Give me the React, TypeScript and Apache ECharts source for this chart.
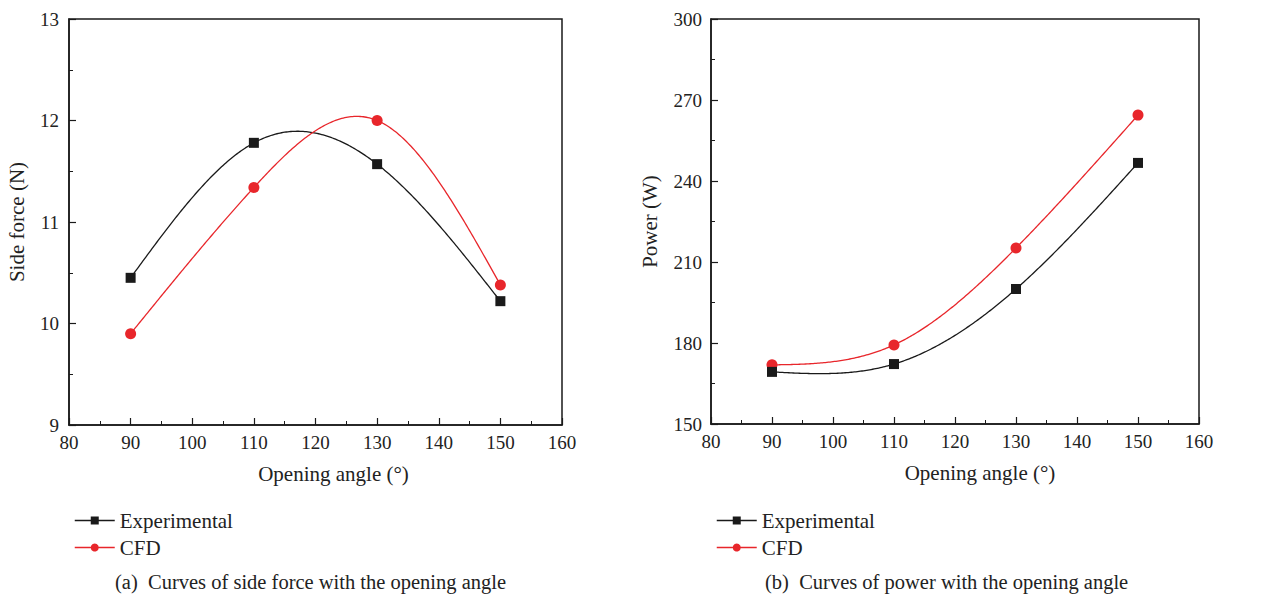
import React, { useEffect, useRef } from "react";
import * as echarts from "echarts";

const angles = [90, 110, 130, 150];
const sideExp = [10.45, 11.78, 11.57, 10.22];
const sideCfd = [9.9, 11.34, 12.0, 10.38];
const powerExp = [169.3, 172.2, 200.0, 246.7];
const powerCfd = [171.9, 179.3, 215.2, 264.4];

const BLACK = "#1a1a1a";
const RED = "#e8262b";
const FONT = "Liberation Serif";

function pairs(xs: number[], ys: number[]) {
  return xs.map((x, i) => [x, ys[i]]);
}

// natural cubic spline evaluator used only for drawing the curve between data points
function naturalSpline(xs: number[], ys: number[]) {
  const n = xs.length;
  const h: number[] = [];
  for (let i = 0; i < n - 1; i++) h.push(xs[i + 1] - xs[i]);
  const a: number[] = new Array(n).fill(0);
  const b: number[] = new Array(n).fill(1);
  const c: number[] = new Array(n).fill(0);
  const d: number[] = new Array(n).fill(0);
  for (let i = 1; i < n - 1; i++) {
    a[i] = h[i - 1];
    b[i] = 2 * (h[i - 1] + h[i]);
    c[i] = h[i];
    d[i] = 6 * ((ys[i + 1] - ys[i]) / h[i] - (ys[i] - ys[i - 1]) / h[i - 1]);
  }
  const cp = new Array(n).fill(0);
  const dp = new Array(n).fill(0);
  cp[0] = c[0] / b[0];
  dp[0] = d[0] / b[0];
  for (let i = 1; i < n; i++) {
    const m = b[i] - a[i] * cp[i - 1];
    cp[i] = c[i] / m;
    dp[i] = (d[i] - a[i] * dp[i - 1]) / m;
  }
  const M = new Array(n).fill(0);
  M[n - 1] = dp[n - 1];
  for (let i = n - 2; i >= 0; i--) M[i] = dp[i] - cp[i] * M[i + 1];
  return (x: number) => {
    let i = 0;
    while (i < n - 2 && x > xs[i + 1]) i++;
    const hi = h[i];
    const t1 = xs[i + 1] - x;
    const t2 = x - xs[i];
    return (
      (M[i] * t1 * t1 * t1) / (6 * hi) +
      (M[i + 1] * t2 * t2 * t2) / (6 * hi) +
      (ys[i] / hi - (M[i] * hi) / 6) * t1 +
      (ys[i + 1] / hi - (M[i + 1] * hi) / 6) * t2
    );
  };
}

function curveSeries(gi: number, xs: number[], ys: number[], color: string) {
  const f = naturalSpline(xs, ys);
  return {
    type: "custom",
    xAxisIndex: gi,
    yAxisIndex: gi,
    data: pairs(xs, ys),
    encode: { x: 0, y: 1 },
    silent: true,
    z: 1,
    renderItem: (params: any, api: any) => {
      if (params.dataIndex !== 0) return null;
      const pts: number[][] = [];
      const x0 = xs[0];
      const x1 = xs[xs.length - 1];
      const steps = 240;
      for (let k = 0; k <= steps; k++) {
        const x = x0 + ((x1 - x0) * k) / steps;
        pts.push(api.coord([x, f(x)]));
      }
      return {
        type: "polyline",
        shape: { points: pts },
        style: { stroke: color, lineWidth: 1.3, fill: null },
      };
    },
  };
}

export default function App() {
  const ref = useRef<HTMLDivElement>(null);
  useEffect(() => {
    document.body.style.margin = "0";
    const chart = echarts.init(ref.current!, null, { renderer: "svg" });
    const axisLine = { show: true, lineStyle: { color: BLACK, width: 1.5 } };
    const axisTick = { show: true, inside: true, length: 7, lineStyle: { color: BLACK, width: 1.2 } };
    const minorTick = { show: true, splitNumber: 2, length: 4, lineStyle: { color: BLACK, width: 1 } };
    const label = { color: "#222", fontFamily: FONT, fontSize: 19 };
    const nameStyle = { color: "#222", fontFamily: FONT, fontSize: 21 };
    const xAxisBase = (gi: number) => ({
      type: "value",
      gridIndex: gi,
      min: 80,
      max: 160,
      interval: 10,
      axisLine,
      axisTick,
      minorTick,
      splitLine: { show: false },
      axisLabel: { ...label, margin: 8 },
      name: "Opening angle (°)",
      nameLocation: "middle",
      nameGap: 38,
      nameTextStyle: { ...nameStyle, padding: [0, 0, 0, gi === 0 ? 36 : 50] },
    });
    const markSeries = (name: string, gi: number, data: number[][], isExp: boolean) => ({
      type: "line",
      name,
      xAxisIndex: gi,
      yAxisIndex: gi,
      data,
      symbol: isExp ? "rect" : "circle",
      symbolSize: isExp ? 10 : 11,
      itemStyle: { color: isExp ? BLACK : RED },
      lineStyle: { color: isExp ? BLACK : RED, width: 1.3, opacity: 0 },
      z: isExp ? 4 : 3,
    });
    const legendData = [
      { name: "Experimental", lineStyle: { color: BLACK, width: 1.5, opacity: 1 } },
      { name: "CFD", lineStyle: { color: RED, width: 1.5, opacity: 1 } },
    ];
    const legendBase = {
      orient: "vertical",
      top: 505,
      itemWidth: 40,
      itemHeight: 10,
      itemGap: 6,
      textStyle: { color: "#222", fontFamily: FONT, fontSize: 21 },
      data: legendData,
    };
    chart.setOption({
      animation: false,
      backgroundColor: "#fff",
      grid: [
        { left: 69, top: 19, width: 493, height: 406, show: true, borderColor: BLACK, borderWidth: 1.5 },
        { left: 711, top: 19, width: 488, height: 405, show: true, borderColor: BLACK, borderWidth: 1.5 },
      ],
      xAxis: [xAxisBase(0), xAxisBase(1)],
      yAxis: [
        {
          type: "value",
          gridIndex: 0,
          min: 9,
          max: 13,
          interval: 1,
          axisLine,
          axisTick,
          minorTick,
          splitLine: { show: false },
          axisLabel: { ...label, margin: 10 },
          name: "Side force (N)",
          nameLocation: "middle",
          nameGap: 42,
          nameTextStyle: nameStyle,
        },
        {
          type: "value",
          gridIndex: 1,
          min: 150,
          max: 300,
          interval: 30,
          axisLine,
          axisTick,
          minorTick,
          splitLine: { show: false },
          axisLabel: { ...label, margin: 9 },
          name: "Power (W)",
          nameLocation: "middle",
          nameGap: 51,
          nameTextStyle: nameStyle,
        },
      ],
      legend: [
        { ...legendBase, left: 69 },
        { ...legendBase, left: 711 },
      ],
      title: [
        {
          text: "(a)  Curves of side force with the opening angle",
          left: 110,
          top: 566,
          textStyle: { color: "#222", fontFamily: FONT, fontSize: 20.5, fontWeight: "normal" },
        },
        {
          text: "(b)  Curves of power with the opening angle",
          left: 760,
          top: 566,
          textStyle: { color: "#222", fontFamily: FONT, fontSize: 20.5, fontWeight: "normal" },
        },
      ],
      series: [
        curveSeries(0, angles, sideExp, BLACK),
        curveSeries(0, angles, sideCfd, RED),
        curveSeries(1, angles, powerExp, BLACK),
        curveSeries(1, angles, powerCfd, RED),
        markSeries("Experimental", 0, pairs(angles, sideExp), true),
        markSeries("CFD", 0, pairs(angles, sideCfd), false),
        markSeries("Experimental", 1, pairs(angles, powerExp), true),
        markSeries("CFD", 1, pairs(angles, powerCfd), false),
      ],
    });
    return () => chart.dispose();
  }, []);
  return <div ref={ref} style={{ width: 1277, height: 598 }} />;
}
